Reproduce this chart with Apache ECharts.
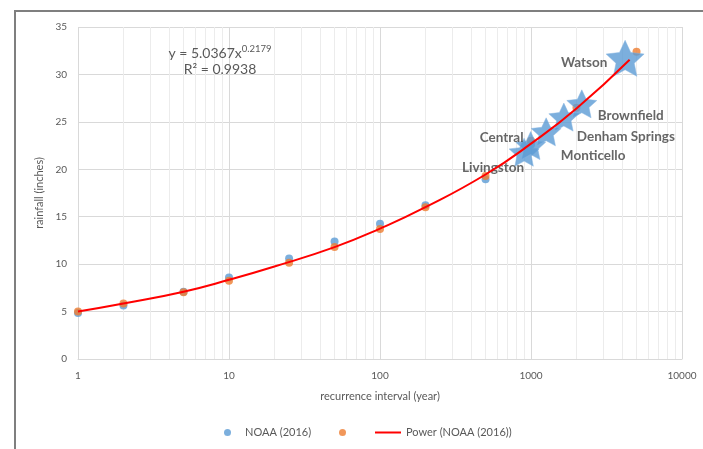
<!DOCTYPE html>
<html>
<head>
<meta charset="utf-8">
<script src="https://cdn.jsdelivr.net/npm/echarts@6/dist/echarts.min.js"></script>
<style>
html,body{margin:0;padding:0;background:#fff;}
#c{width:703px;height:449px;}
</style>
</head>
<body>
<div id="c"></div>
<script>
// ---- data ----
var noaaX = [1, 2, 5, 10, 25, 50, 100, 200, 500, 1000];
var noaaY = [4.85, 5.65, 7.1, 8.6, 10.6, 12.4, 14.25, 16.2, 18.95, 22.6];
var orangeX = [1, 2, 5, 10, 25, 50, 100, 200, 500, 1000, 2000, 5000];
var orangeY = [5.0, 5.85, 7.05, 8.25, 10.15, 11.8, 13.7, 16.0, 19.3, 23.0, 26.5, 32.4];
var fitX = [1, 2, 5, 10, 20, 50, 100, 200, 500, 1000, 2000, 4500];
var fitY = [5.0, 5.85, 7.1, 8.35, 9.75, 11.8, 13.75, 16.0, 19.45, 22.7, 26.4, 31.55];
var starNames = ['Livingston', 'Central', 'Monticello', 'Denham Springs', 'Brownfield', 'Watson'];
var starX = [900, 995, 1260, 1650, 2170, 4200];
var starY = [21.8, 22.5, 23.95, 25.5, 26.9, 31.7];
var yTicks = [0, 5, 10, 15, 20, 25, 30, 35];
var xDecades = [1, 10, 100, 1000, 10000];

// ---- styling (not data) ----
var labelOffsets = {
  'Livingston': [-31, 15],
  'Central': [-29, -8],
  'Monticello': [47, 24],
  'Denham Springs': [62, 20],
  'Brownfield': [49, 12],
  'Watson': [-41, 4]
};
var bigStar = {'Watson': true};
var starPath = 'path://M50 0 L64.11 30.58 L97.55 34.55 L72.83 57.42 L79.39 90.45 L50 74 L20.61 90.45 L27.17 57.42 L2.45 34.55 L35.89 30.58 Z';
var FONT = 'Lato, "Open Sans", sans-serif';

function pairs(xs, ys) { return xs.map(function (x, i) { return [x, ys[i]]; }); }

var minorLines = [];
for (var d = 0; d < xDecades.length - 1; d++) {
  for (var m = 2; m <= 9; m++) minorLines.push({xAxis: xDecades[d] * m});
}

var starData = starNames.map(function (n, i) {
  var big = bigStar[n];
  return {
    name: n,
    value: [starX[i], starY[i]],
    symbolSize: big ? [38, 36] : [30, 28],
    label: {offset: labelOffsets[n]}
  };
});

var legendText = {color: '#595959', fontSize: 11, fontFamily: FONT};

var chart = echarts.init(document.getElementById('c'), null, {renderer: 'canvas'});
chart.setOption({
  animation: false,
  backgroundColor: '#ffffff',
  textStyle: {fontFamily: FONT},
  grid: {left: 78, right: 21, top: 27, bottom: 90, containLabel: false},
  xAxis: {
    type: 'log', logBase: 10, min: xDecades[0], max: xDecades[xDecades.length - 1],
    name: 'recurrence interval (year)', nameLocation: 'middle', nameGap: 32,
    nameTextStyle: {color: '#595959', fontSize: 11, fontFamily: FONT},
    axisLine: {show: true, lineStyle: {color: '#d9d9d9'}},
    axisTick: {show: false},
    axisLabel: {color: '#595959', fontSize: 10, margin: 12, fontFamily: FONT,
      formatter: function (v) { return String(Math.round(v)); }},
    splitLine: {show: true, lineStyle: {color: '#d9d9d9', width: 1}}
  },
  yAxis: {
    type: 'value', min: yTicks[0], max: yTicks[yTicks.length - 1], interval: 5,
    name: 'rainfall (inches)', nameLocation: 'middle', nameGap: 33, nameRotate: 90,
    nameTextStyle: {color: '#595959', fontSize: 11, fontFamily: FONT},
    axisLine: {show: false},
    axisTick: {show: false},
    axisLabel: {color: '#595959', fontSize: 10, margin: 11, fontFamily: FONT},
    splitLine: {show: true, lineStyle: {color: '#d9d9d9', width: 1}}
  },
  legend: [
    {left: 219, top: 422, itemWidth: 25, itemHeight: 7, textStyle: legendText,
      data: [{name: 'NOAA (2016)', icon: 'circle'}]},
    {left: 334, top: 422, itemWidth: 25, itemHeight: 7, textStyle: legendText,
      data: [{name: ' ', icon: 'circle'}]},
    {left: 370, top: 422, itemWidth: 26, itemHeight: 2, itemGap: 3, textStyle: legendText,
      itemStyle: {color: '#ff0000'},
      data: [{name: 'Power (NOAA (2016))', icon: 'rect'}]}
  ],
  series: [
    {
      name: 'minor', type: 'line', data: [], silent: true, z: 0,
      markLine: {silent: true, z: 0, symbol: 'none', label: {show: false},
        lineStyle: {color: '#ececec', width: 1, type: 'solid'},
        data: minorLines}
    },
    {
      name: 'NOAA (2016)', type: 'scatter', data: pairs(noaaX, noaaY),
      symbol: 'circle', symbolSize: 8, itemStyle: {color: '#5b9bd5'}, z: 2
    },
    {
      name: ' ', type: 'scatter', data: pairs(orangeX, orangeY),
      symbol: 'circle', symbolSize: 8, itemStyle: {color: '#ed7d31'}, z: 3
    },
    {
      name: 'stars', type: 'scatter', data: starData,
      symbol: starPath, symbolKeepAspect: false,
      itemStyle: {color: '#5b9bd5', borderColor: '#86b6e2', borderWidth: 0.6},
      label: {show: true, position: 'inside', formatter: '{b}',
        color: '#404040', fontSize: 13.5, fontWeight: 'bold', fontFamily: FONT},
      z: 4
    },
    {
      name: 'Power (NOAA (2016))', type: 'line', data: pairs(fitX, fitY),
      smooth: true, showSymbol: false, symbol: 'none',
      lineStyle: {color: '#ff0000', width: 2}, itemStyle: {color: '#ff0000'}, z: 5
    }
  ],
  graphic: [
    {type: 'rect', shape: {x: 15, y: 11, width: 900, height: 900},
      style: {fill: 'none', stroke: '#7f7f7f', lineWidth: 2}, silent: true, z: -10},
    {type: 'text', x: 220, y: 52, z: 100,
      style: {text: '{n|y = 5.0367x}{s|0.2179}', align: 'center', verticalAlign: 'middle',
        rich: {n: {fontSize: 14, fill: '#595959', fontFamily: FONT, lineHeight: 17, verticalAlign: 'bottom'},
               s: {fontSize: 9.5, fill: '#595959', fontFamily: FONT, lineHeight: 17, verticalAlign: 'top'}}}},
    {type: 'text', x: 220, y: 69, z: 100,
      style: {text: 'R\u00b2 = 0.9938', align: 'center', verticalAlign: 'middle',
        fontSize: 14, fill: '#595959', fontFamily: FONT}}
  ]
});
</script>
</body>
</html>
